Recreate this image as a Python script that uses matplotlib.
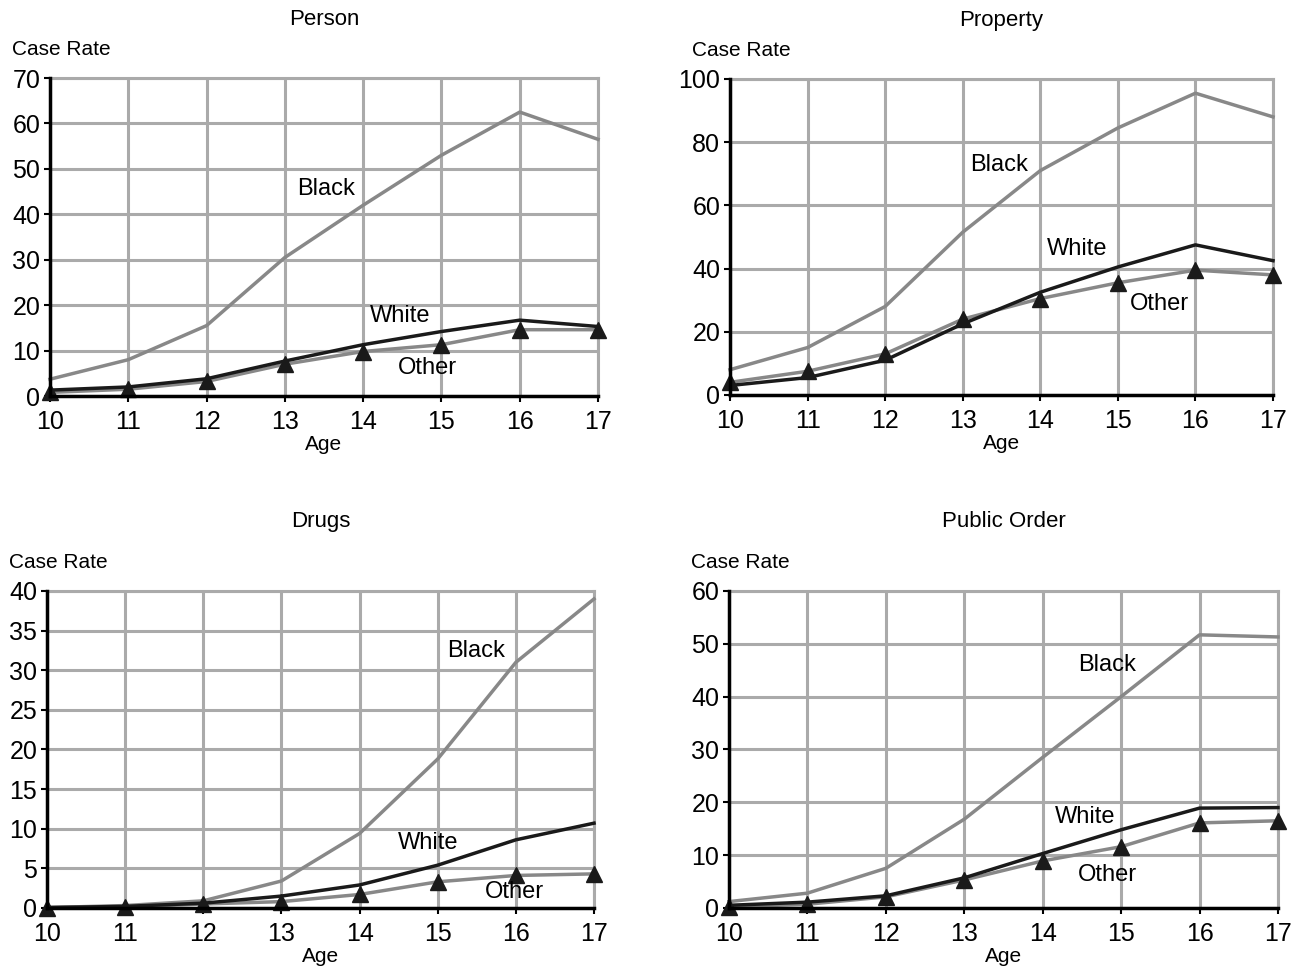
import matplotlib
matplotlib.use('Agg')
import matplotlib.pyplot as plt

plt.rcParams['font.family'] = ['Liberation Sans', 'DejaVu Sans']

ages = [10, 11, 12, 13, 14, 15, 16, 17]

person_black = [3.7, 8.0, 15.5, 30.5, 42.0, 53.0, 62.5, 56.5]
person_white = [1.3, 2.0, 3.8, 7.7, 11.3, 14.2, 16.7, 15.3]
person_other = [0.8, 1.5, 3.2, 7.0, 9.8, 11.3, 14.6, 14.6]

property_black = [8.0, 15.0, 28.0, 51.5, 71.0, 84.5, 95.5, 88.0]
property_white = [3.0, 5.5, 11.0, 22.5, 32.5, 40.5, 47.5, 42.5]
property_other = [4.0, 7.5, 13.0, 24.0, 30.5, 35.5, 39.5, 38.0]

drugs_black = [0.05, 0.3, 0.9, 3.4, 9.4, 18.8, 31.0, 39.0]
drugs_white = [0.05, 0.2, 0.6, 1.5, 2.9, 5.4, 8.6, 10.7]
drugs_other = [0.05, 0.15, 0.5, 0.8, 1.7, 3.3, 4.1, 4.3]

public_black = [1.2, 2.8, 7.5, 16.8, 28.5, 40.0, 51.7, 51.3]
public_white = [0.5, 1.1, 2.3, 5.7, 10.3, 14.8, 18.9, 19.0]
public_other = [0.2, 0.7, 2.1, 5.3, 8.9, 11.6, 16.1, 16.5]

panels = [
    # title, black, white, other, ymax, ystep, axes rect, label positions, title pad
    ('Person', person_black, person_white, person_other, 70, 10,
     [0.0384, 0.5913, 0.4213, 0.3282],
     [(13.53, 45.6), (14.47, 17.6), (14.82, 6.2)], 38),
    ('Property', property_black, property_white, property_other, 100, 20,
     [0.5611, 0.5924, 0.4174, 0.3261],
     [(13.47, 72.8), (14.47, 46.2), (15.54, 28.8)], 38),
    ('Drugs', drugs_black, drugs_white, drugs_other, 40, 5,
     [0.0361, 0.0630, 0.4205, 0.3271],
     [(15.49, 32.4), (14.88, 8.2), (15.98, 2.0)], 46),
    ('Public Order', public_black, public_white, public_other, 60, 10,
     [0.5603, 0.0630, 0.4220, 0.3271],
     [(14.82, 46.0), (14.54, 17.2), (14.82, 6.2)], 46),
]

fig = plt.figure(figsize=(13.01, 9.69), dpi=100)

for title, black, white, other, ymax, ystep, rect, labpos, tpad in panels:
    ax = fig.add_axes(rect)
    ax.plot(ages, black, color='#888888', lw=2.5, zorder=3, clip_on=False)
    ax.plot(ages, other, color='#888888', lw=2.5, zorder=3, clip_on=False,
            marker='^', markersize=12, markerfacecolor='#1a1a1a',
            markeredgecolor='#1a1a1a')
    ax.plot(ages, white, color='#1a1a1a', lw=2.5, zorder=4, clip_on=False)

    ax.set_xlim(10, 17)
    ax.set_ylim(0, ymax)
    ax.set_xticks(ages)
    ax.set_yticks(range(0, ymax + 1, ystep))
    ax.grid(True, color='#aaaaaa', lw=2.2)
    ax.set_axisbelow(True)
    for s in ['top', 'right']:
        ax.spines[s].set_color('#aaaaaa')
        ax.spines[s].set_linewidth(2.2)
    for s in ['left', 'bottom']:
        ax.spines[s].set_color('black')
        ax.spines[s].set_linewidth(2.5)
        ax.spines[s].set_zorder(5)
    ax.tick_params(labelsize=18, length=4, width=1.5)
    ax.tick_params(axis='x', pad=6)
    ax.tick_params(axis='y', pad=3)

    ax.text(labpos[0][0], labpos[0][1], 'Black', fontsize=17, ha='center', va='center')
    ax.text(labpos[1][0], labpos[1][1], 'White', fontsize=17, ha='center', va='center')
    ax.text(labpos[2][0], labpos[2][1], 'Other', fontsize=17, ha='center', va='center')

    ax.set_title(title, fontsize=16, pad=tpad)
    ax.set_xlabel('Age', fontsize=15, labelpad=1)
    ax.text(-0.07, 1.09, 'Case Rate', fontsize=15, transform=ax.transAxes,
            ha='left', va='center')

fig.savefig('out.png', dpi=100)
